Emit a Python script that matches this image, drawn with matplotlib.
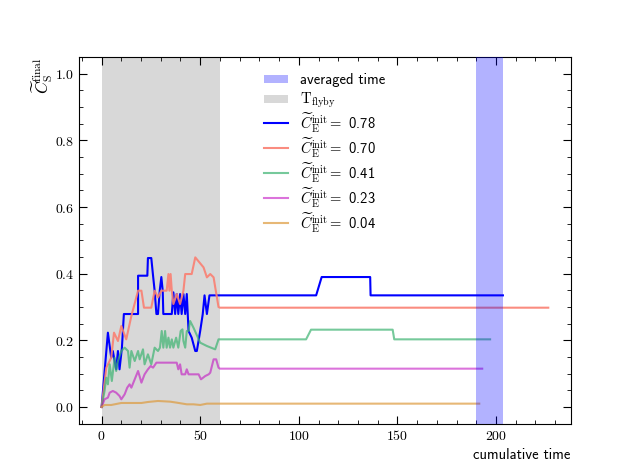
import matplotlib
matplotlib.use("Agg")
import matplotlib.pyplot as plt
import matplotlib.patches as mpatches
from matplotlib.legend_handler import HandlerPatch
from matplotlib.ticker import MultipleLocator, FuncFormatter

plt.rcParams['mathtext.fontset'] = 'cm'

# ------------------------------------------------------
# data
t_flyby = (0, 60)
t_avg = (190, 203.5)

t_078 = [0, 3.2, 4.9, 5.7, 7.4, 8.3, 9.1, 10.3, 11.3, 18.5, 18.5, 23.2, 23.5, 25.2, 26.1,
         26.9, 27.8, 28.6, 29.5, 30.3, 31.0, 31.3, 35.6, 36.4, 37.3, 38.1, 38.9, 39.8, 40.6,
         41.5, 42.4, 43.2, 44.1, 45.7, 47.5, 48.3, 50.0, 51.3, 52.2, 53.4, 54.7, 60,
         108.8, 111.6, 136.2, 136.4, 203.5]
c_078 = [0, 0.223, 0.148, 0.168, 0.113, 0.168, 0.113, 0.177, 0.279, 0.279, 0.394, 0.394,
         0.447, 0.447, 0.394, 0.349, 0.279, 0.279, 0.35, 0.39, 0.349, 0.279, 0.279, 0.344,
         0.279, 0.339, 0.279, 0.339, 0.279, 0.339, 0.279, 0.339, 0.228, 0.208, 0.168, 0.168,
         0.228, 0.279, 0.335, 0.279, 0.335, 0.335, 0.335, 0.39, 0.39, 0.335, 0.335]

t_070 = [0, 2.4, 4.9, 6.3, 8.3, 10.0, 12.5, 15.1, 18.5, 20.2, 21.5, 25.2, 26.9, 28.6, 30.3,
         33.0, 33.9, 34.4, 35.0, 35.6, 36.4, 38.1, 39.8, 41.5, 42.4, 45.7, 47.5, 51.7, 53.4,
         55.1, 56.8, 57.6, 59.3, 60, 226.5]
c_070 = [0, 0.118, 0.148, 0.223, 0.198, 0.243, 0.203, 0.273, 0.349, 0.349, 0.298, 0.298,
         0.349, 0.329, 0.349, 0.349, 0.399, 0.349, 0.399, 0.349, 0.309, 0.339, 0.309, 0.349,
         0.399, 0.399, 0.449, 0.419, 0.389, 0.399, 0.389, 0.36, 0.30, 0.298, 0.298]

t_041 = [0, 1.5, 2.4, 3.2, 4.1, 5.2, 6.6, 7.4, 8.3, 10.0, 11.7, 13.4, 14.2, 15.1, 16.8, 18.5,
         19.3, 21.0, 21.8, 23.5, 25.2, 26.9, 28.6, 29.6, 30.5, 31.3, 32.2, 33.0, 33.9, 34.7,
         35.6, 36.4, 37.8, 38.9, 40.1, 41.0, 41.5, 42.4, 43.2, 44.1, 44.9, 46.6, 50.0, 53.4,
         57.6, 59.3, 60, 103.7, 106.2, 147.6, 148.4, 197]
c_041 = [0, 0.048, 0.088, 0.068, 0.128, 0.078, 0.148, 0.108, 0.138, 0.168, 0.178, 0.168,
         0.118, 0.168, 0.138, 0.168, 0.143, 0.173, 0.128, 0.158, 0.128, 0.178, 0.168, 0.178,
         0.228, 0.178, 0.228, 0.178, 0.208, 0.178, 0.203, 0.178, 0.208, 0.178, 0.228, 0.233,
         0.198, 0.178, 0.228, 0.228, 0.258, 0.238, 0.193, 0.183, 0.173, 0.203, 0.203, 0.203,
         0.232, 0.232, 0.203, 0.203]

t_023 = [0, 1.5, 3.2, 4.1, 5.7, 7.4, 9.1, 10.0, 11.7, 13.0, 14.2, 15.1, 16.8, 18.5, 20.2,
         21.8, 23.5, 24.9, 26.1, 27.8, 38.1, 38.9, 39.8, 40.6, 42.4, 43.2, 44.1, 49.2, 50.4,
         52.6, 54.3, 55.1, 56.8, 58.1, 59.3, 60, 193]
c_023 = [0, 0.023, 0.028, 0.043, 0.048, 0.043, 0.033, 0.023, 0.038, 0.058, 0.068, 0.058,
         0.083, 0.108, 0.073, 0.098, 0.113, 0.123, 0.118, 0.133, 0.133, 0.113, 0.128, 0.098,
         0.098, 0.113, 0.098, 0.098, 0.083, 0.093, 0.098, 0.103, 0.143, 0.143, 0.118, 0.115,
         0.115]

t_004 = [0, 1.5, 4.9, 6.6, 10.0, 20.2, 23.5, 28.6, 34.7, 38.1, 43.2, 46.6, 50.0, 53.4, 60, 191.5]
c_004 = [0, 0.006, 0.006, 0.008, 0.012, 0.012, 0.015, 0.018, 0.016, 0.013, 0.008, 0.008,
         0.006, 0.010, 0.010, 0.010]

runs = [
    (t_078, c_078, '0.78', 'blue', 1.0),
    (t_070, c_070, '0.70', 'salmon', 0.9),
    (t_041, c_041, '0.41', 'mediumseagreen', 0.7),
    (t_023, c_023, '0.23', 'm', 0.55),
    (t_004, c_004, '0.04', '#dd9a3c', 0.7),
]


# small legend boxes for the spans (rows are made taller than the boxes)
def small_box(legend, orig_handle, xdescent, ydescent, width, height, fontsize):
    h = 0.55 * fontsize
    return mpatches.Rectangle((-xdescent, -ydescent + (height - h) / 2), width, h)


# ------------------------------------------------------
fig = plt.figure(figsize=(6.34, 4.76), dpi=100)
ax = fig.add_subplot(111)

fly = ax.axvspan(*t_flyby, color='gray', alpha=0.3, lw=0, zorder=1,
                 label=r'$\mathrm{T_{flyby}}$')

lines = []
for t, c, lab, col, a in runs:
    ln, = ax.plot(t, c, color=col, alpha=a, lw=1.5, zorder=2,
                  label=r'$\widetilde{C}_\mathrm{E}^\mathrm{init} =$ ' + lab)
    lines.append(ln)

avg = ax.axvspan(*t_avg, color='blue', alpha=0.3, lw=0, zorder=3, label='averaged time')

ax.set_ylim(-0.05, 1.05)
ax.xaxis.set_minor_locator(MultipleLocator(10))
ax.yaxis.set_major_locator(MultipleLocator(0.2))
ax.yaxis.set_minor_locator(MultipleLocator(0.05))
ax.xaxis.set_major_formatter(FuncFormatter(lambda v, p: f'${v:.0f}$'))
ax.yaxis.set_major_formatter(FuncFormatter(lambda v, p: f'${v:.1f}$'))
ax.tick_params(which='both', direction='in', top=True, right=True)
ax.tick_params(which='major', length=6)
ax.tick_params(which='minor', length=3)

ax.set_xlabel('cumulative time', loc='right', family='cmss10', fontsize=10.5)
ax.set_ylabel(r'$\widetilde{C}_\mathrm{S}^\mathrm{final}$', loc='top', fontsize=12, labelpad=0)

box = HandlerPatch(patch_func=small_box)
ax.legend(handles=[avg, fly] + lines, loc='upper center', frameon=False,
          prop={'family': 'cmss10', 'size': 10.5}, handlelength=1.65,
          handleheight=1.55, labelspacing=0.1,
          handler_map={avg: box, fly: box})

fig.savefig('out.png', dpi=100)
